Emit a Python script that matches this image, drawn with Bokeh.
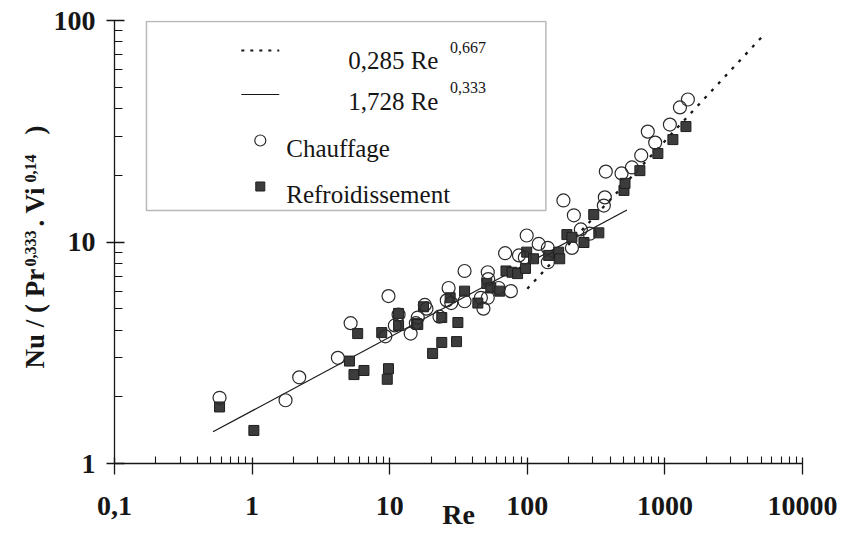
import numpy as np
from bokeh.plotting import figure
from bokeh.layouts import row
from bokeh.models import FixedTicker, CustomJSTickFormatter, Label, BoxAnnotation, Range1d
from bokeh.embed import file_html
from bokeh.resources import INLINE

# ---------------- data ----------------
re_chauffage = [0.58, 1.75, 2.2, 4.2, 5.2, 9.3, 9.8, 10.9, 11.6, 14.2, 15.5, 16, 18, 18.5,
                23, 26, 26.8, 28, 35, 35, 46, 48, 51.6, 51.6, 52, 62, 69, 76, 87, 96, 99,
                121, 141, 141, 183, 211, 218, 245, 284, 360, 366, 372, 484, 576, 673, 751,
                850, 1087, 1286, 1469]
nu_chauffage = [1.98, 1.93, 2.45, 3.0, 4.3, 3.75, 5.7, 4.2, 4.7, 3.86, 4.3, 4.56, 5.2, 5.0,
                4.6, 5.45, 6.2, 5.3, 7.4, 5.4, 5.6, 5.0, 5.6, 7.3, 6.8, 6.2, 8.9, 6.0, 8.7, 8.5, 10.7,
                9.8, 9.4, 8.1, 15.4, 9.4, 13.2, 11.4, 10.9, 14.6, 15.9, 20.8, 20.4, 21.7, 24.6, 31.5,
                28.1, 33.9, 40.5, 44.0]

re_refroid = [0.58, 1.03, 5.1, 5.85, 5.5, 6.5, 8.75, 9.8, 9.6, 11.6, 11.6, 15.7, 16, 17.6,
              20.5, 23.9, 23.9, 27.5, 30.6, 31.3, 35, 43.7, 50.8, 54.3, 63, 70, 77.5, 85,
              97, 99, 111, 143, 169, 172, 194, 211, 258, 304, 331, 504, 513, 658, 889,
              1143, 1422]
nu_refroid = [1.80, 1.41, 2.9, 3.86, 2.52, 2.63, 3.9, 2.68, 2.4, 4.76, 4.2, 4.28, 4.24, 5.1,
              3.14, 4.56, 3.52, 5.6, 3.55, 4.33, 6.0, 5.3, 6.5, 6.2, 6.0, 7.4, 7.3, 7.2,
              7.6, 9.0, 8.4, 8.7, 9.0, 8.4, 10.8, 10.5, 9.95, 13.3, 11.0, 17.1, 18.4, 21.0, 25.1,
              29.0, 33.2]

coef_turb, exp_turb = 0.285, 0.667
coef_lam, exp_lam = 1.728, 0.333
re_turb_range = [100, 5300]
re_lam_range = [0.52, 530]

x_ticks = [0.1, 1, 10, 100, 1000, 10000]
x_tick_labels = ["0,1", "1", "10", "100", "1000", "10000"]
y_ticks = [1, 10, 100]
y_tick_labels = ["1", "10", "100"]

# ---------------- layout ----------------
H = 540
LW = 50                      # left strip that carries the rotated y title
FX0, FX1, FY0, FY1 = 113.0, 802.0, 20.0, 463.0   # frame in page pixels
MW = 792

def dx(px):
    return 10 ** ((px - FX0) / (FX1 - FX0) * 5 - 1)
def dy(py):
    return 10 ** ((FY1 - py) / (FY1 - FY0) * 2)

INK = "#161616"
SERIF = "Liberation Serif"

p = figure(width=MW, height=H, x_axis_type="log", y_axis_type="log",
           x_range=(0.1, 10000), y_range=(1, 100),
           output_backend="svg", toolbar_location=None,
           min_border_left=int(FX0 - LW), min_border_right=int(MW - (FX1 - LW)),
           min_border_top=int(FY0), min_border_bottom=int(H - FY1))
p.outline_line_color = None
p.xgrid.visible = False
p.ygrid.visible = False

p.xaxis.ticker = FixedTicker(ticks=x_ticks,
                             minor_ticks=[m * 10.0 ** e for e in range(-1, 4) for m in range(2, 10)])
p.yaxis.ticker = FixedTicker(ticks=y_ticks,
                             minor_ticks=[m * 10.0 ** e for e in range(0, 2) for m in range(2, 10)])
fmt_code = """
for (let i = 0; i < vals.length; i++) {
  if (Math.abs(Math.log10(tick) - Math.log10(vals[i])) < 1e-6) return labs[i];
}
return '';
"""
p.xaxis.formatter = CustomJSTickFormatter(args=dict(vals=x_ticks, labs=x_tick_labels), code=fmt_code)
p.yaxis.formatter = CustomJSTickFormatter(args=dict(vals=y_ticks, labs=y_tick_labels), code=fmt_code)

for ax in (p.xaxis, p.yaxis):
    ax.axis_line_color = INK
    ax.axis_line_width = 1.3
    ax.major_tick_line_color = INK
    ax.minor_tick_line_color = INK
    ax.major_tick_line_width = 1.3
    ax.minor_tick_line_width = 1.1
    ax.major_label_text_font = SERIF
    ax.major_label_text_font_style = "bold"
    ax.major_label_text_font_size = "28px"
    ax.major_label_text_color = INK

p.xaxis.major_tick_in = 6
p.xaxis.major_tick_out = 11
p.xaxis.minor_tick_in = 7
p.xaxis.minor_tick_out = 0
p.xaxis.major_label_standoff = 22
p.xaxis.axis_label = "Re"
p.xaxis.axis_label_text_font = SERIF
p.xaxis.axis_label_text_font_style = "bold"
p.xaxis.axis_label_text_font_size = "28px"
p.xaxis.axis_label_text_color = INK
p.xaxis.axis_label_standoff = -19

p.yaxis.major_tick_in = 10
p.yaxis.major_tick_out = 8
p.yaxis.minor_tick_in = 8
p.yaxis.minor_tick_out = 0
p.yaxis.major_label_standoff = 11

# ---------------- correlations ----------------
re_t = np.array(re_turb_range, dtype=float)
re_l = np.array(re_lam_range, dtype=float)
p.line(re_t, coef_turb * re_t ** exp_turb, line_color=INK, line_width=2.3, line_dash="3 7")
p.line(re_l, coef_lam * re_l ** exp_lam, line_color=INK, line_width=1.2)

# ---------------- data points ----------------
p.scatter(re_refroid, nu_refroid, marker="square", size=10, fill_color="#3c3c3c",
          line_color="#1e1e1e", line_width=1)
p.scatter(re_chauffage, nu_chauffage, marker="circle", size=13, fill_color=None,
          line_color="#2a2a2a", line_width=1.2)

# ---------------- legend (manual, to allow superscripts) ----------------
p.add_layout(BoxAnnotation(left=dx(145), right=dx(545), top=dy(21), bottom=dy(210),
                           fill_alpha=0, line_color=INK, line_width=1.5))
p.line([dx(240), dx(278)], [dy(50), dy(50)], line_color=INK, line_width=2, line_dash="3 6")
p.line([dx(240), dx(278)], [dy(94), dy(94)], line_color=INK, line_width=1.2)
p.scatter([dx(259)], [dy(140)], marker="circle", size=11, fill_color=None,
          line_color="#2a2a2a", line_width=1.2)
p.scatter([dx(259)], [dy(186)], marker="square", size=9, fill_color="#3c3c3c",
          line_color="#1e1e1e", line_width=1)

def lab(px, py, text, size, bold=False, align="left"):
    p.add_layout(Label(x=dx(px), y=dy(py), text=text, text_font=SERIF,
                       text_font_size=f"{size}px", text_font_style="bold" if bold else "normal",
                       text_color=INK, text_align=align, text_baseline="alphabetic"))

lab(347, 60, "0,285 Re", 25)
lab(449, 47, "0,667", 16)
lab(347, 101, "1,728 Re", 25)
lab(449, 87, "0,333", 16)
lab(285, 148, "Chauffage", 25)
lab(285, 194, "Refroidissement", 25)

# ---------------- left strip with the rotated y title ----------------
# its frame is aligned with the main frame (page y 20..463), so data y == page y
q = figure(width=LW, height=H, x_range=Range1d(0, LW), y_range=Range1d(FY1, FY0),
           x_axis_type=None, y_axis_type=None, output_backend="svg",
           toolbar_location=None, min_border=0)
q.outline_line_color = None
q.xgrid.visible = False
q.ygrid.visible = False

def ylab(baseline_x, py, text, size):
    # centred on the anchor: shift so that the baseline falls at baseline_x
    q.add_layout(Label(x=baseline_x - 0.3375 * size, y=py, text=text, text_font=SERIF,
                       text_font_size=f"{size}px", text_font_style="bold", text_color=INK,
                       text_align="left", text_baseline="middle", angle=np.pi / 2))

ylab(44, 368, "Nu / ( Pr", 27)
ylab(35, 266, "0,333", 16)
ylab(44, 226, ". Vi", 27)
ylab(35, 182, "0,14", 16)
ylab(44, 134, ")", 27)

open("out.html", "w").write(file_html(row(q, p), INLINE))
